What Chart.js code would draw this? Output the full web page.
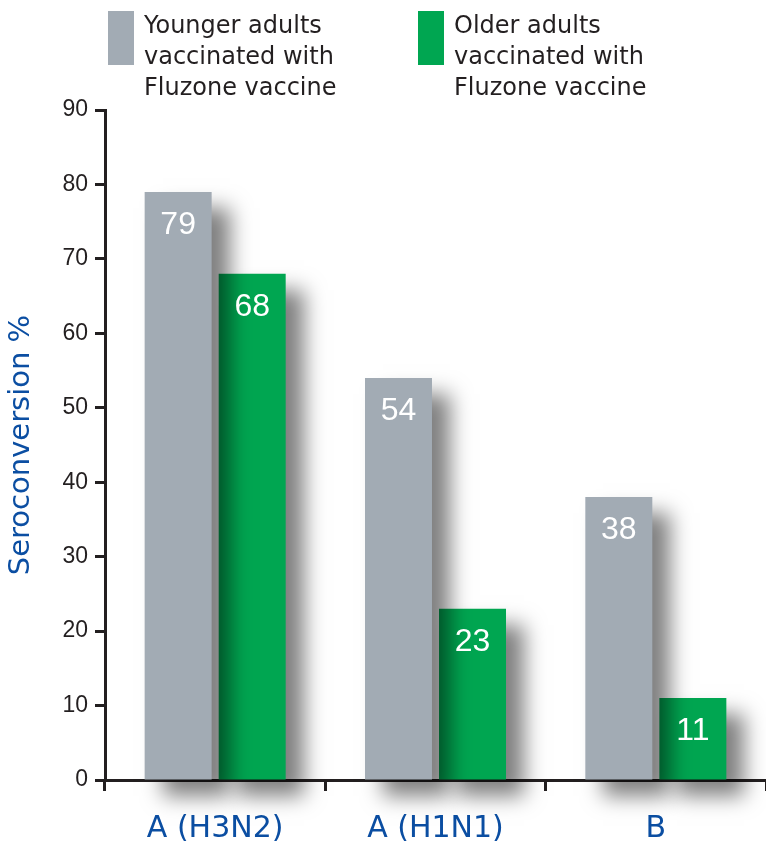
<!DOCTYPE html>
<html>
<head>
<meta charset="utf-8">
<script src="https://cdn.jsdelivr.net/npm/chart.js@4"></script>
<style>
  html, body { margin: 0; padding: 0; background: #fff; }
  #wrap { width: 766px; height: 848px; }
</style>
</head>
<body>
<div id="wrap"><canvas id="seroChart" width="766" height="848"></canvas></div>
<script>
// data
const strains = ['A (H3N2)', 'A (H1N1)', 'B'];
const youngerValues = [79, 54, 38];
const olderValues = [68, 23, 11];
const yTicks = [0, 10, 20, 30, 40, 50, 60, 70, 80, 90];

const youngerLabel = ['Younger adults', 'vaccinated with', 'Fluzone vaccine'];
const olderLabel = ['Older adults', 'vaccinated with', 'Fluzone vaccine'];

const GRAY = '#a2abb4';
const GREEN = '#00a651';
const INK = '#231f20';
const BLUE = '#0b4ea2';
const WIDE = "'DejaVu Sans', Verdana, sans-serif";
const PLAIN = "'Liberation Sans', Arial, sans-serif";

// soft drop shadow under the bars
const barShadow = {
    id: 'barShadow',
    beforeDatasetsDraw(chart) {
        const ctx = chart.ctx;
        ctx.save();
        ctx.shadowColor = 'rgba(0,0,0,0.5)';
        ctx.shadowBlur = 20;
        ctx.shadowOffsetX = 18;
        ctx.shadowOffsetY = 16;
    },
    afterDatasetsDraw(chart) {
        chart.ctx.restore();
    }
};

// white numbers inside the top of each bar
const valueLabels = {
    id: 'valueLabels',
    afterDatasetsDraw(chart) {
        const ctx = chart.ctx;
        ctx.save();
        ctx.fillStyle = '#fff';
        ctx.font = '32px ' + PLAIN;
        ctx.textAlign = 'center';
        ctx.textBaseline = 'middle';
        chart.data.datasets.forEach((ds, di) => {
            const meta = chart.getDatasetMeta(di);
            meta.data.forEach((bar, i) => {
                ctx.fillText(ds.data[i], bar.x, bar.y + 33);
            });
        });
        ctx.restore();
    }
};

// legend at the top with three-line labels
const topLegend = {
    id: 'topLegend',
    afterDraw(chart) {
        const ctx = chart.ctx;
        const spots = [108, 418];
        ctx.save();
        ctx.font = '24px ' + WIDE;
        ctx.textBaseline = 'alphabetic';
        chart.data.datasets.forEach((ds, di) => {
            const x = spots[di];
            ctx.fillStyle = ds.backgroundColor;
            ctx.fillRect(x, 11, 26, 54);
            ctx.fillStyle = INK;
            ds.label.forEach((line, li) => {
                ctx.fillText(line, x + 36, 33 + li * 31);
            });
        });
        ctx.restore();
    }
};

new Chart(document.getElementById('seroChart'), {
    type: 'bar',
    data: {
        labels: strains,
        datasets: [
            {
                label: youngerLabel,
                data: youngerValues,
                backgroundColor: GRAY,
                clip: false
            },
            {
                label: olderLabel,
                data: olderValues,
                backgroundColor: GREEN,
                clip: false
            }
        ]
    },
    options: {
        responsive: false,
        animation: false,
        categoryPercentage: 0.672,
        barPercentage: 0.905,
        layout: { padding: { top: 110, right: 0, bottom: 0, left: 4 } },
        plugins: {
            legend: { display: false },
            tooltip: { enabled: false }
        },
        scales: {
            x: {
                z: 1,
                afterFit(scale) { scale.height = 68; },
                border: { color: INK, width: 3 },
                grid: {
                    drawOnChartArea: false,
                    drawTicks: true,
                    tickLength: 11,
                    tickWidth: 3,
                    tickColor: INK
                },
                ticks: {
                    color: BLUE,
                    font: { family: WIDE, size: 30 },
                    padding: 20
                }
            },
            y: {
                z: 1,
                min: 0,
                max: 90,
                afterFit(scale) { scale.width = 101; },
                afterBuildTicks(scale) {
                    scale.ticks = yTicks.map(v => ({ value: v }));
                },
                border: { color: INK, width: 3 },
                grid: {
                    drawOnChartArea: false,
                    drawTicks: true,
                    tickLength: 10,
                    tickWidth: 3,
                    tickColor: INK
                },
                ticks: {
                    color: INK,
                    font: { family: PLAIN, size: 23 },
                    padding: 7
                },
                title: {
                    display: true,
                    text: 'Seroconversion %',
                    color: BLUE,
                    font: { family: WIDE, size: 29 },
                    padding: { top: 0, bottom: 12 }
                }
            }
        }
    },
    plugins: [barShadow, valueLabels, topLegend]
});
</script>
</body>
</html>
